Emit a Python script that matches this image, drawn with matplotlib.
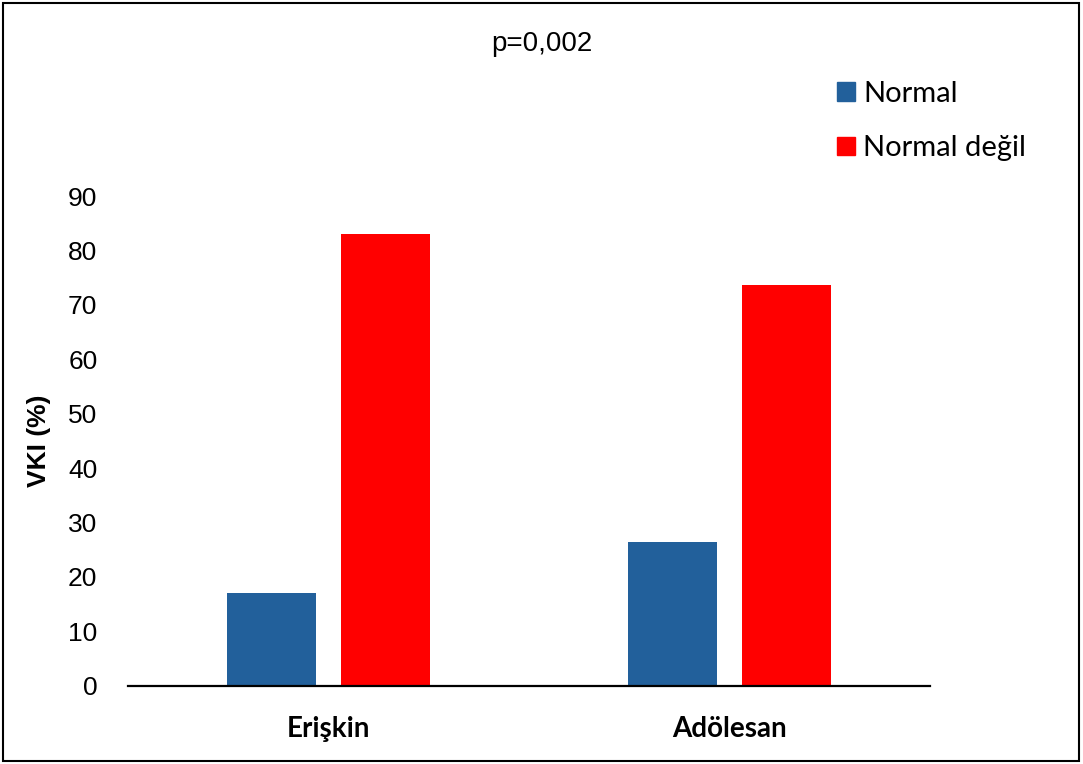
import numpy as np
import matplotlib
matplotlib.use('Agg')
import matplotlib.pyplot as plt
from matplotlib.patches import Rectangle, Patch

# data
groups = ['Erişkin', 'Adölesan']
series = ['Normal', 'Normal değil']
normal = [17.0, 26.4]
not_normal = [83.0, 73.6]
colors = ['#22609B', '#FF0000']

fig = plt.figure(figsize=(10.83, 7.64), dpi=100)
ax = fig.add_axes([0.1182, 0.1025, 0.7405, 0.6407])

x = np.arange(len(groups))
w = 0.224
gap = 0.06
ax.bar(x - (w + gap) / 2, normal, w, color=colors[0], label=series[0])
ax.bar(x + (w + gap) / 2, not_normal, w, color=colors[1], label=series[1])

ax.set_xlim(-0.5, 1.5)
ax.set_ylim(0, 90)
ax.set_yticks(range(0, 91, 10))
ax.set_xticks(x)
ax.set_xticklabels(groups, fontfamily='Lato', fontweight='bold', fontsize=20)
for t in ax.get_yticklabels():
    t.set_fontfamily('Liberation Sans')
    t.set_fontsize(19)
ax.tick_params(axis='y', length=0, pad=22)
ax.tick_params(axis='x', length=0, pad=22)

for s in ['top', 'right', 'left']:
    ax.spines[s].set_visible(False)
ax.spines['bottom'].set_linewidth(1.6)

ax.set_ylabel('VKI (%)', fontfamily='Liberation Sans', fontweight='bold',
              fontsize=19, labelpad=12)

fig.text(0.5005, 0.943, 'p=0,002', ha='center', va='center',
         fontfamily='Liberation Sans', fontsize=20)

handles = [Patch(color=c) for c in colors]
fig.legend(handles, series, loc='upper left', bbox_to_anchor=(0.773, 0.894),
           frameon=False, prop={'family': 'Lato', 'size': 21},
           handlelength=0.62, handleheight=0.62, handletextpad=0.28,
           labelspacing=0.97, borderpad=0, borderaxespad=0)

# outer frame
fig.patches.append(Rectangle((0.003, 0.004), 0.993, 0.992, transform=fig.transFigure,
                             fill=False, edgecolor='black', linewidth=1.5))

fig.savefig('out.png', dpi=100)
